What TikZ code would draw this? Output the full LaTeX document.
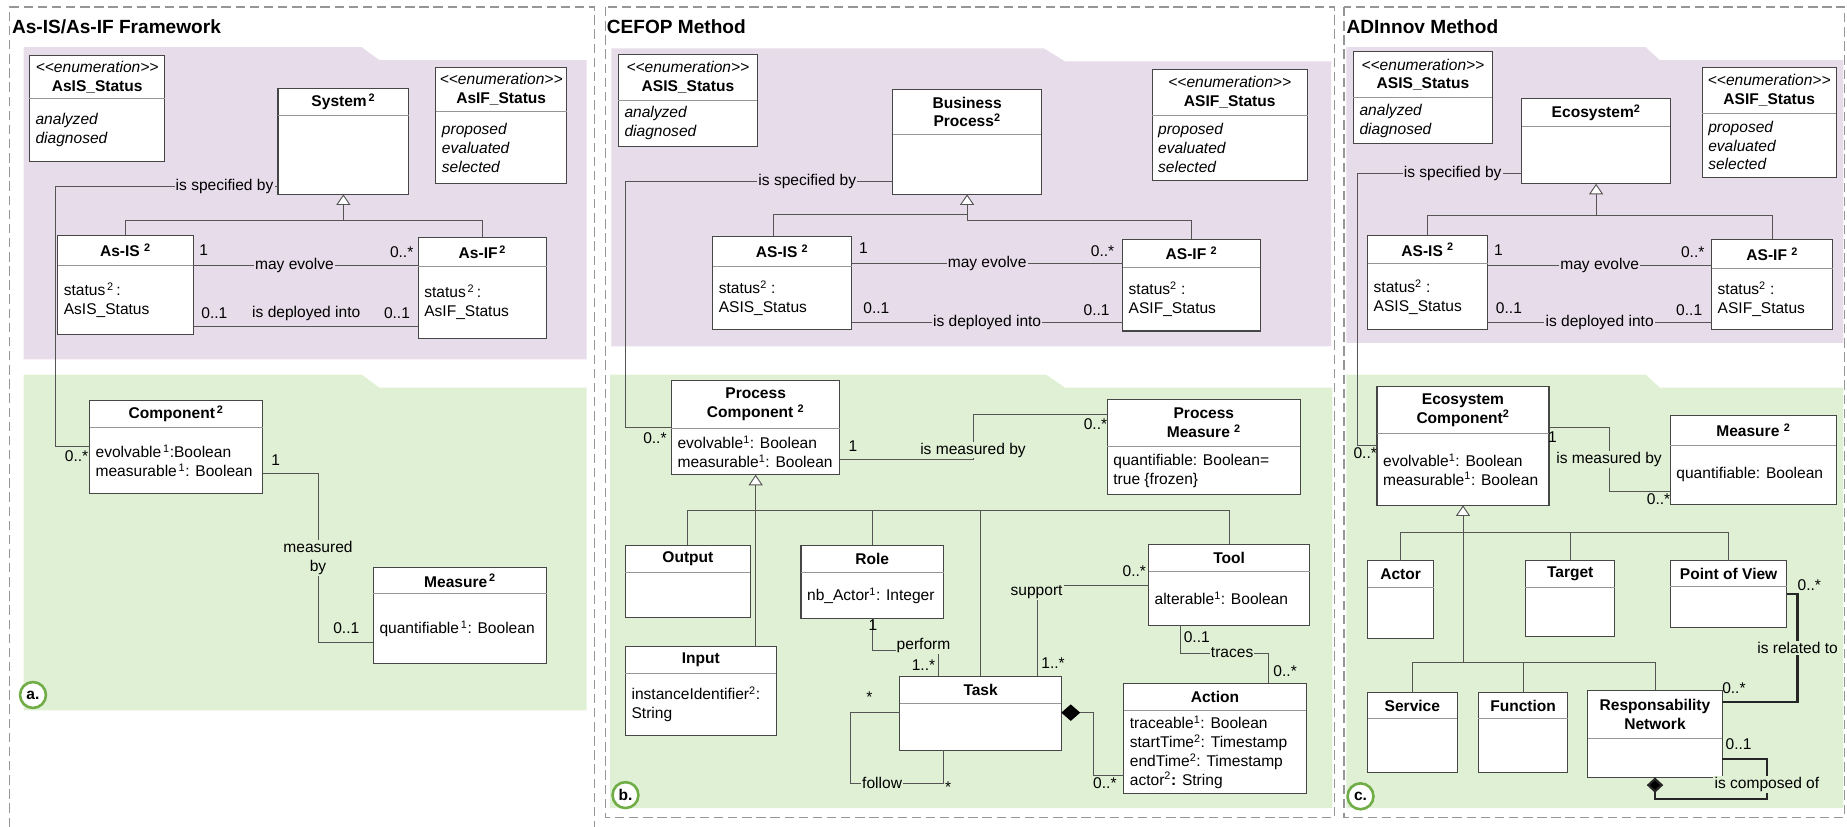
\documentclass[tikz,border=0pt]{standalone}
\usepackage{fontspec}
\setmainfont{Liberation Sans}
\usepackage{tikz}
\usetikzlibrary{arrows.meta}
\definecolor{purplebg}{RGB}{231,220,233}
\definecolor{greenbg}{RGB}{224,240,213}
\definecolor{boxline}{RGB}{70,70,70}
\definecolor{divgray}{RGB}{150,150,150}
\definecolor{linegray}{RGB}{85,85,85}
\definecolor{framegray}{RGB}{150,150,150}
\definecolor{badgegreen}{RGB}{112,173,71}

\newcommand{\diagfont}{\fontsize{13.2}{16}\selectfont}
\newcommand{\stereo}[1]{\textnormal{\itshape <{}<#1>{}>}}

\tikzset{
  classbox/.style={draw=boxline, fill=white, line width=0.9pt, inner sep=0pt, outer sep=0pt},
  classtitle/.style={font=\diagfont\bfseries, align=center, inner sep=0pt},
  classattr/.style={font=\diagfont, align=left, anchor=west, inner sep=0pt},
  divline/.style={draw=divgray, line width=0.8pt},
  assoc/.style={draw=linegray, line width=0.8pt},
  inh/.style={assoc, -{Triangle[length=9pt, width=12pt, fill=white]}},
  compo/.style={assoc, {Diamond[length=16pt, width=14pt, fill=black, color=black]}-},
  strong/.style={draw=black!85, line width=1.8pt},
  lblP/.style={fill=purplebg, inner sep=1pt, font=\diagfont},
  lblG/.style={fill=greenbg, inner sep=1pt, font=\diagfont},
  mult/.style={inner sep=0pt, font=\diagfont},
  badge/.style={circle, draw=badgegreen, line width=2.2pt, fill=white, minimum size=22pt, inner sep=0pt, font=\diagfont\bfseries},
  paneltitle/.style={anchor=west, inner sep=0pt, font=\fontsize{16.2}{20}\selectfont\bfseries},
  frame/.style={draw=framegray, line width=1pt, dash pattern=on 8pt off 4pt}
}

% class box: name, left, top, width, height, header height, title, attributes
\newcommand{\umlclass}[8]{%
  \node[classbox, minimum width=#4pt, minimum height=#5pt] (#1) at ({#2+#4/2},{#3+#5/2}) {};
  \draw[divline] ([yshift=-#6pt]#1.north west) -- ([yshift=-#6pt]#1.north east);
  \node[classtitle] (#1-title) at ([yshift=-#6pt/2]#1.north) {#7};
  \node[classattr] (#1-attr) at ([xshift=5pt, yshift={-(#6+(#5-#6)/2)*1pt}]#1.north west) {#8};
}

\begin{document}
\begin{tikzpicture}[x=1pt, y=-1pt, every node/.style={font=\diagfont}]
    \useasboundingbox (0,0) rectangle (1568,702);

    % panel frames and package backgrounds
    \draw[frame] (8,702) -- (8,6) -- (505,6) -- (505,702);
    \draw[frame] (514,6) rectangle (1133,694);
    \draw[frame] (1141,6) rectangle (1566,694);
    \fill[purplebg] (20,40) -- (307,40) -- (322,51) -- (498,51) -- (498,305) -- (20,305) -- cycle;
    \fill[greenbg] (20,318) -- (307,318) -- (322,329) -- (498,329) -- (498,603) -- (20,603) -- cycle;
    \fill[purplebg] (519,41) -- (886,41) -- (904,52) -- (1130,52) -- (1130,294) -- (519,294) -- cycle;
    \fill[greenbg] (518,318) -- (888,318) -- (904,329) -- (1131,329) -- (1131,686) -- (518,686) -- cycle;
    \fill[purplebg] (1143,40) -- (1397,40) -- (1409,51) -- (1565,51) -- (1565,291) -- (1143,291) -- cycle;
    \fill[greenbg] (1143,318) -- (1397,318) -- (1409,329) -- (1565,329) -- (1565,686) -- (1143,686) -- cycle;

    \node[paneltitle] (titleA) at (10,23) {As-IS/As-IF Framework};
    \node[paneltitle] (titleB) at (515,23) {CEFOP Method};
    \node[paneltitle] (titleC) at (1143,23) {ADInnov Method};

    % a. framework
    \umlclass{asisStA}{25}{47}{115}{90}{37}{\stereo{enumeration}\\AsIS\_Status}{\textit{analyzed}\\\textit{diagnosed}}
    \umlclass{systemA}{236}{75}{111}{90}{23}{System\textsuperscript{\,2}}{}
    \umlclass{asifStA}{370}{57}{111}{99}{38}{\stereo{enumeration}\\AsIF\_Status}{\textit{proposed}\\\textit{evaluated}\\\textit{selected}}
    \umlclass{asisA}{49}{200}{115}{84}{25}{As-IS \textsuperscript{2}}{status\textsuperscript{\,2}\,:\\AsIS\_Status}
    \umlclass{asifA}{355}{202}{109}{85}{24}{As-IF\textsuperscript{\,2}}{status\textsuperscript{\,2}\,:\\AsIF\_Status}
    \umlclass{compA}{76}{340}{147}{79}{23}{Component\textsuperscript{\,2}}{evolvable\textsuperscript{\,1}:Boolean\\measurable\textsuperscript{\,1}: Boolean}
    \umlclass{measA}{317}{482}{147}{81}{22}{Measure\textsuperscript{\,2}}{quantifiable\textsuperscript{\,1}: Boolean}

    \draw[inh] (asisA.north) |- (systemA.south |- 0,187) -- (systemA.south);
    \draw[assoc] (asifA.north) |- (systemA.south |- 0,187);
    \draw[assoc] (asisA.east |- 0,225) -- node[lblP, pos=0.45] (evolveA) {may evolve} (asifA.west |- 0,225);
    \draw[assoc] (asisA.east |- 0,277) -- (asifA.west |- 0,277);
    \node[mult] (deployA) at (260,266) {is deployed into};
    \draw[assoc] (systemA.west |- 0,158) -- node[lblP, pos=0.24] (specA) {is specified by} (47,158) |- (compA.west |- 0,379);
    \draw[assoc] (compA.east |- 0,402) -- (270,402) -- node[lblG, align=center] (measByA) {measured\\by} (270,545) -- (measA.west |- 0,545);
    \node[mult] (mA1) at (173,212) {1};
    \node[mult] (mA2) at (341,214) {0..*};
    \node[mult] (mA3) at (182,266) {0..1};
    \node[mult] (mA4) at (337,266) {0..1};
    \node[mult] (mA5) at (65,387) {0..*};
    \node[mult] (mA6) at (234,391) {1};
    \node[mult] (mA7) at (294,533) {0..1};
    \node[badge] (badgeA) at (28,590) {a.};

    % b. CEFOP
    \umlclass{asisStB}{525}{46}{118}{78}{39}{\stereo{enumeration}\\ASIS\_Status}{\textit{analyzed}\\\textit{diagnosed}}
    \umlclass{bprocB}{758}{76}{126}{89}{38}{Business\\Process\textsuperscript{2}}{}
    \umlclass{asifStB}{978}{59}{132}{94}{39}{\stereo{enumeration}\\ASIF\_Status}{\textit{proposed}\\\textit{evaluated}\\\textit{selected}}
    \umlclass{asisB}{605}{201}{118}{79}{25}{AS-IS \textsuperscript{2}}{status\textsuperscript{2} :\\ASIS\_Status}
    \umlclass{asifB}{953}{203}{117}{78}{24}{AS-IF \textsuperscript{2}}{status\textsuperscript{2} :\\ASIF\_Status}
    \umlclass{pcompB}{570}{323}{143}{80}{41}{Process\\Component \textsuperscript{2}}{evolvable\textsuperscript{1}: Boolean\\measurable\textsuperscript{1}: Boolean}
    \umlclass{pmeasB}{940}{339}{164}{81}{40}{Process\\Measure \textsuperscript{2}}{quantifiable: Boolean=\\true \{frozen\}}
    \umlclass{outputB}{531}{463}{106}{61}{23}{Output}{}
    \umlclass{inputB}{531}{549}{128}{75}{23}{Input}{instanceIdentifier\textsuperscript{2}:\\String}
    \umlclass{roleB}{680}{463}{121}{62}{23}{Role}{nb\_Actor\textsuperscript{1}: Integer}
    \umlclass{taskB}{764}{574}{137}{63}{23}{Task}{}
    \umlclass{toolB}{975}{462}{137}{69}{23}{Tool}{alterable\textsuperscript{1}: Boolean}
    \umlclass{actionB}{954}{580}{155}{94}{23}{Action}{traceable\textsuperscript{1}: Boolean\\startTime\textsuperscript{2}: Timestamp\\endTime\textsuperscript{2}: Timestamp\\actor\textsuperscript{2}\textbf{:} String}

    \draw[inh] (asisB.north -| 657,0) |- (bprocB.south |- 0,182) -- (bprocB.south);
    \draw[assoc] (asifB.north) |- (bprocB.south |- 0,187) -- (bprocB.south |- 0,182);
    \draw[assoc] (asisB.east |- 0,224) -- node[lblP] (evolveB) {may evolve} (asifB.west |- 0,224);
    \draw[assoc] (asisB.east |- 0,274) -- node[lblP] (deployB) {is deployed into} (asifB.west |- 0,274);
    \draw[assoc] (bprocB.west |- 0,154) -- node[lblP, pos=0.32] (specB) {is specified by} (531,154) |- (pcompB.west |- 0,363);
    \draw[assoc] (pcompB.east |- 0,390) -- (826,390) -- (826,352) -- (pmeasB.west |- 0,352);
    \node[lblG] (measByB) at (826,382) {is measured by};
    \draw[inh] (inputB.north -| pcompB.south) -- (pcompB.south);
    \draw[assoc] (outputB.north) |- (toolB.north |- 0,433) -- (toolB.north);
    \draw[assoc] (roleB.north) -- (roleB.north |- 0,433);
    \draw[assoc] (taskB.north) -- (taskB.north |- 0,433);
    \draw[assoc] (roleB.south) |- (797,552) -- (taskB.north -| 797,0);
    \node[lblG] (performB) at (784,548) {perform};
    \draw[assoc] (taskB.north -| 881,0) |- (toolB.west |- 0,497);
    \node[lblG] (supportB) at (880,503) {support};
    \draw[assoc] (toolB.south -| 1002,0) |- (1077,555) -- (actionB.north -| 1077,0);
    \node[lblG] (tracesB) at (1046,554) {traces};
    \draw[compo] (taskB.east |- 0,605) -| (928,658) -- (actionB.west |- 0,658);
    \draw[assoc] (taskB.west |- 0,605) -| (722,665) -- node[lblG, pos=0.34] (followB) {follow} (801,665) -- (taskB.south -| 801,0);
    \node[mult] (mB1) at (733,211) {1};
    \node[mult] (mB2) at (936,213) {0..*};
    \node[mult] (mB3) at (744,262) {0..1};
    \node[mult] (mB4) at (931,263) {0..1};
    \node[mult] (mB5) at (556,372) {0..*};
    \node[mult] (mB6) at (724,379) {1};
    \node[mult] (mB7) at (930,360) {0..*};
    \node[mult] (mB8) at (741,531) {1};
    \node[mult] (mB9) at (784,565) {1..*};
    \node[mult] (mB10) at (894,563) {1..*};
    \node[mult] (mB11) at (963,485) {0..*};
    \node[mult] (mB12) at (1016,541) {0..1};
    \node[mult] (mB13) at (1091,570) {0..*};
    \node[mult] (mB14) at (938,665) {0..*};
    \node[mult] (mB15) at (738,592) {*};
    \node[mult] (mB16) at (805,668) {*};
    \node[badge] (badgeB) at (531,675) {b.};

    % c. ADInnov
    \umlclass{asisStC}{1149}{44}{118}{78}{39}{\stereo{enumeration}\\ASIS\_Status}{\textit{analyzed}\\\textit{diagnosed}}
    \umlclass{ecoC}{1292}{84}{126}{72}{23}{Ecosystem\textsuperscript{2}}{}
    \umlclass{asifStC}{1445}{57}{114}{94}{39}{\stereo{enumeration}\\ASIF\_Status}{\textit{proposed}\\\textit{evaluated}\\\textit{selected}}
    \umlclass{asisC}{1161}{200}{102}{80}{24}{AS-IS \textsuperscript{2}}{status\textsuperscript{2} :\\ASIS\_Status}
    \umlclass{asifC}{1453}{203}{103}{77}{25}{AS-IF \textsuperscript{2}}{status\textsuperscript{2} :\\ASIF\_Status}
    \umlclass{ecompC}{1169}{328}{146}{101}{40}{Ecosystem\\Component\textsuperscript{2}}{evolvable\textsuperscript{1}: Boolean\\measurable\textsuperscript{1}: Boolean}
    \umlclass{measC}{1418}{353}{141}{75}{25}{Measure \textsuperscript{2}}{quantifiable: Boolean}
    \umlclass{actorC}{1161}{476}{56}{66}{23}{Actor}{}
    \umlclass{targetC}{1295}{476}{76}{64}{23}{Target}{}
    \umlclass{povC}{1418}{476}{99}{57}{22}{Point of View}{}
    \umlclass{serviceC}{1161}{588}{76}{68}{22}{Service}{}
    \umlclass{functionC}{1255}{588}{76}{68}{22}{Function}{}
    \umlclass{respC}{1348}{586}{114}{74}{41}{Responsability\\Network}{}

    \draw[inh] (asisC.north) |- (ecoC.south |- 0,183) -- (ecoC.south);
    \draw[assoc] (asifC.north) |- (ecoC.south |- 0,183);
    \draw[assoc] (asisC.east |- 0,225) -- node[lblP] (evolveC) {may evolve} (asifC.west |- 0,225);
    \draw[assoc] (asisC.east |- 0,274) -- node[lblP] (deployC) {is deployed into} (asifC.west |- 0,274);
    \draw[assoc] (ecoC.west |- 0,147) -- node[lblP, pos=0.42] (specC) {is specified by} (1152,147) |- (ecompC.west |- 0,378);
    \draw[assoc] (ecompC.east |- 0,363) -- (1366,363) -- node[lblG] (measByC) {is measured by} (1366,417) -- (measC.west |- 0,417);
    \draw[inh] (ecompC.south |- 0,562) -- (ecompC.south);
    \draw[assoc] (actorC.north) |- (povC.north |- 0,452) -- (povC.north);
    \draw[assoc] (targetC.north) -- (targetC.north |- 0,452);
    \draw[assoc] (serviceC.north) |- (respC.north |- 0,562) -- (respC.north);
    \draw[assoc] (functionC.north) -- (functionC.north |- 0,562);
    \draw[strong] (povC.east |- 0,504) -- (1526,504) -- node[lblG] (relatedC) {is related to} (1526,596) -- (respC.east |- 0,596);
    \draw[strong, {Diamond[length=13pt, width=14pt, fill=black]}-] (respC.south) -- (respC.south |- 0,678) -- (1500,678) -- node[lblG, pos=0.35] (composedC) {is composed of} (1500,644) -- (respC.east |- 0,644);
    \node[mult] (mC1) at (1272,212) {1};
    \node[mult] (mC2) at (1437,214) {0..*};
    \node[mult] (mC3) at (1281,262) {0..1};
    \node[mult] (mC4) at (1434,263) {0..1};
    \node[mult] (mC5) at (1159,385) {0..*};
    \node[mult] (mC6) at (1318,371) {1};
    \node[mult] (mC7) at (1408,424) {0..*};
    \node[mult] (mC8) at (1536,497) {0..*};
    \node[mult] (mC9) at (1472,584) {0..*};
    \node[mult] (mC10) at (1476,632) {0..1};
    \node[badge] (badgeC) at (1155,676) {c.};
\end{tikzpicture}
\end{document}
